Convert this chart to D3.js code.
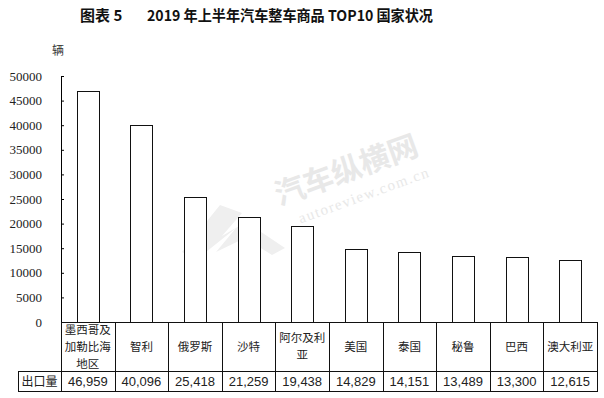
<!DOCTYPE html>
<html><head><meta charset="utf-8">
<script src="https://cdn.jsdelivr.net/npm/d3@7"></script>
<style>body{margin:0;background:#fff}svg{display:block}</style>
</head><body>
<script>
const categories = ["墨西哥及加勒比海地区","智利","俄罗斯","沙特","阿尔及利亚","美国","泰国","秘鲁","巴西","澳大利亚"];
const values = [46959,40096,25418,21259,19438,14829,14151,13489,13300,12615];
const valueLabels = ["46,959","40,096","25,418","21,259","19,438","14,829","14,151","13,489","13,300","12,615"];
const yTicks = [0,5000,10000,15000,20000,25000,30000,35000,40000,45000,50000];
const titleLeft = "图表 5";
const titleRight = "2019 年上半年汽车整车商品 TOP10 国家状况";
const unitLabel = "辆";
const rowLabel = "出口量";

const W = 604, H = 398;
const svg = d3.select("body").append("svg").attr("width", W).attr("height", H);

const x0 = 61, x1 = 597, y0 = 322, yTop = 76;
const rowMid = 371, rowBot = 391, tableLeft = 18;

const x = d3.scaleBand().domain(categories).range([x0, x1]).paddingInner(0).paddingOuter(0);
const y = d3.scaleLinear().domain([0, 50000]).range([y0, yTop]);
const barW = 22;

// watermark
const wm = svg.append("g").attr("transform", "translate(350,180) rotate(-20)");
wm.append("text").attr("x", 0).attr("y", 0).attr("text-anchor", "middle")
  .attr("font-family", "Noto Sans CJK SC").attr("font-weight", "bold").attr("font-size", 30)
  .attr("fill", "#e8e8e8").text("汽车纵横网");
wm.append("text").attr("x", 8).attr("y", 24).attr("text-anchor", "middle")
  .attr("font-family", "Liberation Serif").attr("font-size", 15).attr("letter-spacing", 1.5)
  .attr("fill", "#e8e8e8").text("autoreview.com.cn");
svg.append("path")
  .attr("d", "M182,252 L220,205 L242,213 L222,236 L246,222 L285,248 L272,255 L245,238 L216,252 L236,228 L196,260 Z")
  .attr("fill", "#efefef");

// title
svg.append("text").attr("x", 80).attr("y", 21)
  .attr("font-family", "Noto Sans CJK SC").attr("font-weight", "bold").attr("font-size", 15)
  .attr("fill", "#111").text(titleLeft);
svg.append("text").attr("x", 147).attr("y", 21)
  .attr("font-family", "Noto Sans CJK SC").attr("font-weight", "bold").attr("font-size", 15)
  .attr("fill", "#111").attr("textLength", 286).attr("lengthAdjust", "spacingAndGlyphs").text(titleRight);

// unit
svg.append("text").attr("x", 52).attr("y", 55)
  .attr("font-family", "Noto Sans CJK SC").attr("font-size", 12).attr("fill", "#333").text(unitLabel);

// y axis
const yAxis = d3.axisRight(y).tickValues(yTicks).tickSize(3).tickFormat("");
const ga = svg.append("g").attr("transform", `translate(${x0},0)`).call(yAxis);
ga.select(".domain").attr("stroke", "#000").attr("d", `M0.5,${yTop}V${y0}`);
ga.selectAll(".tick line").attr("stroke", "#000");
svg.append("g").selectAll("text").data(yTicks).join("text")
  .attr("x", 42).attr("y", d => y(d) + 4.5).attr("text-anchor", "end")
  .attr("font-family", "Liberation Serif").attr("font-size", 13).attr("fill", "#222")
  .text(d => d);

// bars
svg.append("g").selectAll("rect").data(values).join("rect")
  .attr("x", (d, i) => Math.round(x(categories[i]) + x.bandwidth() / 2 - barW / 2) + 0.5)
  .attr("y", d => Math.round(y(d)) + 0.5)
  .attr("width", barW)
  .attr("height", d => y0 - Math.round(y(d)))
  .attr("fill", "#fff").attr("stroke", "#111").attr("stroke-width", 1);

// table lines
const lines = svg.append("g").attr("stroke", "#111").attr("stroke-width", 1);
lines.append("line").attr("x1", x0).attr("x2", x1 + 0.5).attr("y1", y0 + 0.5).attr("y2", y0 + 0.5);
lines.append("line").attr("x1", tableLeft).attr("x2", x1 + 0.5).attr("y1", rowMid + 0.5).attr("y2", rowMid + 0.5);
lines.append("line").attr("x1", tableLeft).attr("x2", x1 + 0.5).attr("y1", rowBot + 0.5).attr("y2", rowBot + 0.5);
lines.append("line").attr("x1", tableLeft + 0.5).attr("x2", tableLeft + 0.5).attr("y1", rowMid).attr("y2", rowBot + 1);
const bounds = categories.map(c => x(c)).concat([x1]);
lines.selectAll(".vb").data(bounds).join("line").attr("class", "vb")
  .attr("x1", d => Math.round(d) + 0.5).attr("x2", d => Math.round(d) + 0.5)
  .attr("y1", y0).attr("y2", rowBot + 1);

// category labels (wrapped at 4 characters, one text per line)
function wrap(s) { const out = []; for (let i = 0; i < s.length; i += 4) out.push(s.slice(i, i + 4)); return out; }
const catRows = [];
const lh = 16.8;
categories.forEach(c => {
  const ls = wrap(c);
  const cy = (y0 + rowMid) / 2 - (ls.length - 1) * lh / 2;
  ls.forEach((l, k) => catRows.push({ t: l, x: x(c) + x.bandwidth() / 2, y: cy + k * lh + 4.2 }));
});
svg.append("g").selectAll("text").data(catRows).join("text")
  .attr("x", d => d.x).attr("y", d => d.y).attr("text-anchor", "middle")
  .attr("font-family", "Noto Sans CJK SC").attr("font-size", 11.5).attr("fill", "#222")
  .text(d => d.t);

// value row
svg.append("text").attr("x", (tableLeft + x0) / 2).attr("y", (rowMid + rowBot) / 2 + 5)
  .attr("text-anchor", "middle").attr("font-family", "Noto Sans CJK SC").attr("font-size", 12).attr("fill", "#222").text(rowLabel);
svg.append("g").selectAll("text").data(valueLabels).join("text")
  .attr("x", (d, i) => x(categories[i]) + x.bandwidth() / 2)
  .attr("y", (rowMid + rowBot) / 2 + 5)
  .attr("text-anchor", "middle").attr("font-family", "Liberation Sans").attr("font-size", 13).attr("fill", "#222")
  .text(d => d);
</script>
</body></html>
